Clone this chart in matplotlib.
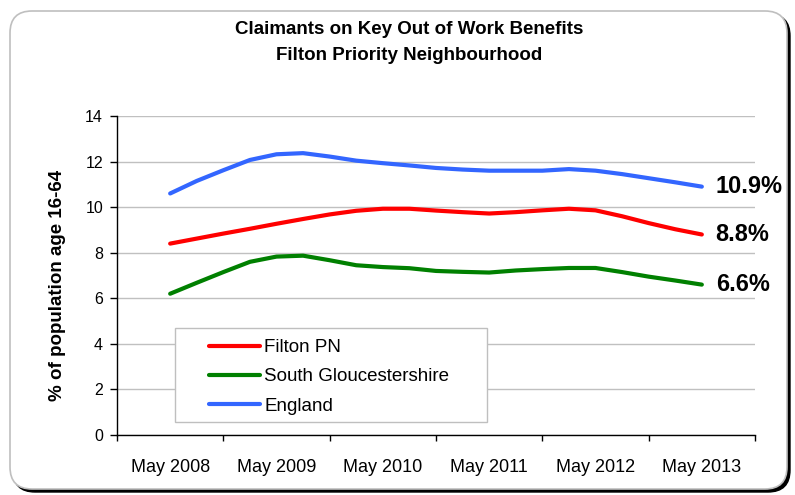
import numpy as np
import matplotlib
matplotlib.use("Agg")
import matplotlib.pyplot as plt
from matplotlib.patches import FancyBboxPatch, Rectangle
from matplotlib.transforms import IdentityTransform

plt.rcParams['font.family'] = ['Liberation Sans', 'DejaVu Sans']

# ---- data ----
quarters = ["May 2008", "Aug 2008", "Nov 2008", "Feb 2009",
            "May 2009", "Aug 2009", "Nov 2009", "Feb 2010",
            "May 2010", "Aug 2010", "Nov 2010", "Feb 2011",
            "May 2011", "Aug 2011", "Nov 2011", "Feb 2012",
            "May 2012", "Aug 2012", "Nov 2012", "Feb 2013",
            "May 2013"]
filton = [8.4, 8.62, 8.84, 9.05, 9.27, 9.48, 9.68, 9.84, 9.93, 9.93, 9.85,
          9.78, 9.72, 9.78, 9.86, 9.93, 9.86, 9.6, 9.3, 9.03, 8.8]
south_glos = [6.2, 6.68, 7.15, 7.6, 7.83, 7.87, 7.67, 7.45, 7.37, 7.32, 7.2,
              7.16, 7.13, 7.22, 7.28, 7.33, 7.33, 7.15, 6.95, 6.78, 6.6]
england = [10.6, 11.15, 11.62, 12.07, 12.32, 12.37, 12.22, 12.04, 11.93,
           11.83, 11.72, 11.65, 11.6, 11.6, 11.6, 11.67, 11.6, 11.45, 11.27,
           11.09, 10.9]
series_names = ["Filton PN", "South Gloucestershire", "England"]
series_colors = ["#FF0000", "#008000", "#3366FF"]
end_labels = ["8.8%", "6.6%", "10.9%"]
year_labels = ["May 2008", "May 2009", "May 2010", "May 2011", "May 2012", "May 2013"]
title_lines = ["Claimants on Key Out of Work Benefits", "Filton Priority Neighbourhood"]
ylabel = "% of population age 16-64"

W, H = 795, 495
fig = plt.figure(figsize=(W / 100, H / 100), dpi=100)
fig.patch.set_facecolor("white")

# rounded chart frame with dark shadow on right/bottom
x0, x1, ytop, ybot = 10, 787, 11, 489
shadow = FancyBboxPatch((x0 + 3, H - ybot - 3), x1 - x0, ybot - ytop,
                        boxstyle="round,pad=0,rounding_size=22",
                        transform=IdentityTransform(), facecolor="black",
                        edgecolor="black", lw=1, zorder=-20)
frame = FancyBboxPatch((x0, H - ybot), x1 - x0, ybot - ytop,
                       boxstyle="round,pad=0,rounding_size=22",
                       transform=IdentityTransform(), facecolor="white",
                       edgecolor="#BFBFBF", lw=1.2, zorder=-19)
fig.add_artist(shadow)
fig.add_artist(frame)

L, R, T, B = 117, 755, 116, 435
ax = fig.add_axes([L / W, 1 - B / H, (R - L) / W, (B - T) / H])
ax.set_facecolor("none")

xpos = np.arange(len(quarters)) / 4.0
series = [filton, south_glos, england]
lines = []
for vals, name, col in zip(series, series_names, series_colors):
    ln, = ax.plot(xpos, vals, color=col, lw=3, solid_capstyle="round",
                  solid_joinstyle="round", label=name, zorder=3)
    lines.append(ln)

for vals, lab in zip(series, end_labels):
    ax.annotate(lab, xy=(xpos[-1], vals[-1]), xytext=(10, 0),
                textcoords="offset points", ha="left", va="center",
                fontsize=17, fontweight="bold", annotation_clip=False)

ax.set_xlim(-0.5, 5.5)
ax.set_ylim(0, 14)
ax.set_yticks(np.arange(0, 15, 2))
ax.tick_params(axis="y", direction="out", length=5, width=1, pad=5,
               labelsize=11.5, colors="black")
ax.yaxis.grid(True, color="#C0C0C0", lw=1)
ax.set_axisbelow(True)

ax.set_xticks(np.arange(-0.5, 6.0, 1.0))
ax.set_xticklabels([])
ax.tick_params(axis="x", which="major", direction="out", length=4, width=1)
ax.set_xticks(np.arange(len(year_labels)), minor=True)
ax.set_xticklabels(year_labels, minor=True)
ax.tick_params(axis="x", which="minor", length=0, pad=17, labelsize=13)

for s in ["top", "right"]:
    ax.spines[s].set_visible(False)
for s in ["left", "bottom"]:
    ax.spines[s].set_color("black")
    ax.spines[s].set_linewidth(1)

# legend frame and legend
lx0, lx1, ly0, ly1 = 175, 487, 328, 422
ax.add_patch(Rectangle(((lx0 - L) / (R - L), (B - ly1) / (B - T)),
                       (lx1 - lx0) / (R - L), (ly1 - ly0) / (B - T),
                       transform=ax.transAxes, facecolor="white",
                       edgecolor="#BFBFBF", lw=1, zorder=4))
leg = ax.legend(handles=lines, loc="upper left",
                bbox_to_anchor=((209 - L) / (R - L), (B - 339) / (B - T)),
                frameon=False, fontsize=13.5, handlelength=2.7,
                handletextpad=0.25, labelspacing=0.65, borderpad=0,
                borderaxespad=0)
leg.set_zorder(5)

fig.text(58 / W, 1 - 285 / H, ylabel, rotation=90, ha="center", va="center",
         fontsize=13.5, fontweight="bold")
fig.text(409 / W, 1 - 30 / H, title_lines[0], ha="center", va="center",
         fontsize=13.5, fontweight="bold")
fig.text(409 / W, 1 - 55 / H, title_lines[1], ha="center", va="center",
         fontsize=13.5, fontweight="bold")

fig.savefig("out.png", dpi=100)
